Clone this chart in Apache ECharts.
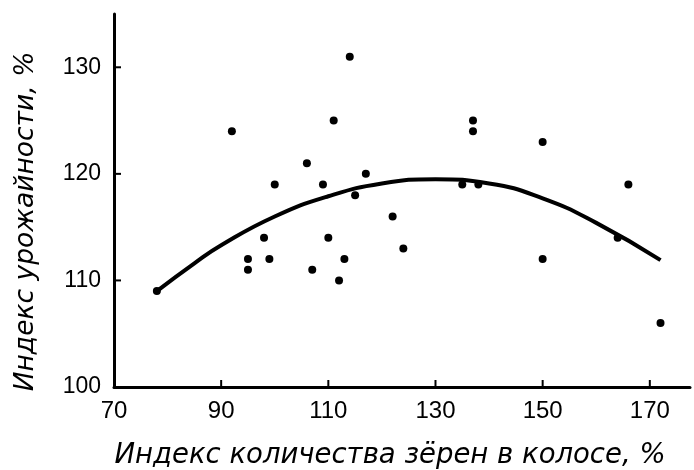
<!DOCTYPE html>
<html>
<head>
<meta charset="utf-8">
<script src="https://cdn.jsdelivr.net/npm/echarts@6/dist/echarts.min.js"></script>
<style>
html,body{margin:0;padding:0;background:#fff;}
#chart{width:694px;height:470px;}
</style>
</head>
<body>
<div id="chart"></div>
<script>
// Scatter data: grain count index (x) vs yield index (y)
const pointsX = [78, 92, 95, 95, 98, 99, 100, 106, 107, 109, 110, 111, 112, 113, 114, 115, 117, 122, 124, 135, 137, 137, 138, 150, 150, 164, 166, 172];
const pointsY = [109, 124, 112, 111, 114, 112, 119, 121, 111, 119, 114, 125, 110, 112, 131, 118, 120, 116, 113, 119, 125, 124, 119, 123, 112, 114, 119, 106];

// Trend curve
const trendX = [78, 85, 90, 100, 110, 120, 130, 140, 150, 160, 172];
const trendY = [109.0, 111.6, 113.3, 116.0, 117.9, 119.1, 119.5, 119.1, 117.7, 115.4, 111.9];

// Tick labels
const xTicks = [70, 90, 110, 130, 150, 170];
const yTicks = [100, 110, 120, 130];

const xTitle = 'Индекс количества зёрен в колосе, %';
const yTitle = 'Индекс урожайности, %';

const X_MIN = 70, X_MAX = 177.5, Y_MIN = 100, Y_MAX = 135;

const chart = echarts.init(document.getElementById('chart'), null, {renderer: 'canvas'});

const axisFont = 'Liberation Sans, Arial, sans-serif';
const titleFont = 'DejaVu Sans, sans-serif';

// Inward tick marks placed through the axes' own scales
function tickRenderer(dir) {
  return function (params, api) {
    const p = api.coord([api.value(0), api.value(1)]);
    const shape = dir === 'x'
      ? {x1: p[0], y1: p[1], x2: p[0], y2: p[1] - 7}
      : {x1: p[0], y1: p[1], x2: p[0] + 7, y2: p[1]};
    return {type: 'line', shape: shape, style: {stroke: '#000', lineWidth: 2}, silent: true};
  };
}

chart.setOption({
  animation: false,
  backgroundColor: '#ffffff',
  grid: {left: 114, right: 4, top: 14, bottom: 83, containLabel: false, outerBoundsMode: 'none'},
  xAxis: {
    type: 'value',
    min: X_MIN,
    max: X_MAX,
    interval: 20,
    name: xTitle,
    nameLocation: 'middle',
    nameGap: 55,
    nameTextStyle: {
      fontFamily: titleFont, fontStyle: 'italic', fontSize: 27.5, color: '#000',
      padding: [0, 24, 0, 0]
    },
    axisLine: {show: true, onZero: false, lineStyle: {color: '#000', width: 3}},
    axisTick: {show: false},
    axisLabel: {
      show: true, margin: 12, fontFamily: axisFont, fontSize: 24, color: '#000',
      customValues: xTicks
    },
    splitLine: {show: false}
  },
  yAxis: {
    type: 'value',
    min: Y_MIN,
    max: Y_MAX,
    interval: 10,
    name: yTitle,
    nameLocation: 'middle',
    nameGap: 74,
    nameRotate: 90,
    nameTextStyle: {
      fontFamily: titleFont, fontStyle: 'italic', fontSize: 26.5, color: '#000',
      padding: [0, 42, 0, 0]
    },
    axisLine: {show: true, onZero: false, lineStyle: {color: '#000', width: 3}},
    axisTick: {show: false},
    axisLabel: {
      show: true, margin: 13, fontFamily: axisFont, fontSize: 23, color: '#000',
      customValues: yTicks
    },
    splitLine: {show: false}
  },
  series: [
    {
      type: 'custom',
      renderItem: tickRenderer('x'),
      data: xTicks.slice(1).map(v => [v, Y_MIN]),
      clip: false,
      silent: true,
      z: 5
    },
    {
      type: 'custom',
      renderItem: tickRenderer('y'),
      data: yTicks.slice(1).map(v => [X_MIN, v]),
      clip: false,
      silent: true,
      z: 5
    },
    {
      type: 'line',
      data: trendX.map((x, i) => [x, trendY[i]]),
      smooth: true,
      showSymbol: false,
      symbol: 'none',
      lineStyle: {color: '#000', width: 4},
      z: 2
    },
    {
      type: 'scatter',
      data: pointsX.map((x, i) => [x, pointsY[i]]),
      symbol: 'circle',
      symbolSize: 8,
      itemStyle: {color: '#000', opacity: 1},
      z: 3
    }
  ]
});
</script>
</body>
</html>
